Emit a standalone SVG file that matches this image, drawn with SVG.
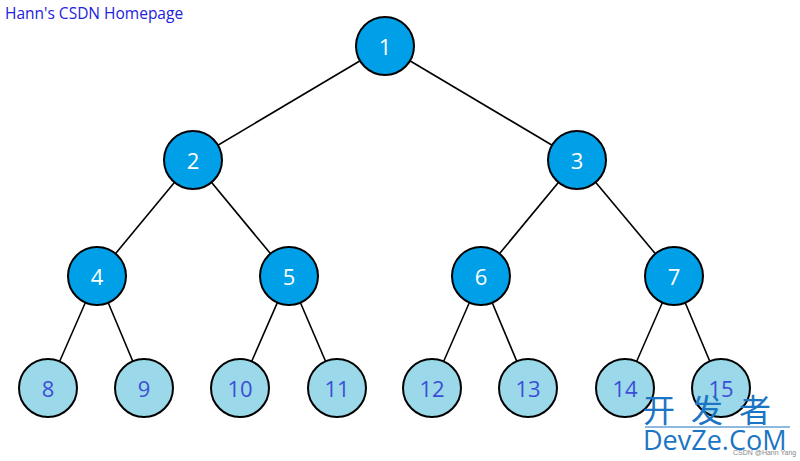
<svg xmlns="http://www.w3.org/2000/svg" width="800" height="461" viewBox="0 0 800 461">
<style>
.e{stroke:#000;stroke-width:1.6}
.n circle{fill:#00a0e9;stroke:#000;stroke-width:2}
.n text{fill:#fff;font-family:"Open Sans","Noto Sans",sans-serif;font-size:22px;text-anchor:middle;dominant-baseline:central}
.l circle{fill:#9bd8ea;stroke:#000;stroke-width:2}
.l text{fill:#3b4fd6;font-family:"Open Sans","Noto Sans",sans-serif;font-size:22px;text-anchor:middle;dominant-baseline:central}
</style>
<rect width="800" height="461" fill="#fff"/>
<text x="5" y="19" font-family="Open Sans,Noto Sans,sans-serif" font-size="15.5" fill="#2222dd">Hann's CSDN Homepage</text>
<g id="edges">
<line class="e" x1="385" y1="46" x2="193" y2="160"/>
<line class="e" x1="385" y1="46" x2="577" y2="160"/>
<line class="e" x1="193" y1="160" x2="97" y2="276"/>
<line class="e" x1="193" y1="160" x2="289" y2="276"/>
<line class="e" x1="577" y1="160" x2="481" y2="276"/>
<line class="e" x1="577" y1="160" x2="674" y2="276"/>
<line class="e" x1="97" y1="276" x2="48" y2="388"/>
<line class="e" x1="97" y1="276" x2="144" y2="388"/>
<line class="e" x1="289" y1="276" x2="240" y2="388"/>
<line class="e" x1="289" y1="276" x2="337" y2="388"/>
<line class="e" x1="481" y1="276" x2="432" y2="388"/>
<line class="e" x1="481" y1="276" x2="528" y2="388"/>
<line class="e" x1="674" y1="276" x2="625" y2="388"/>
<line class="e" x1="674" y1="276" x2="721" y2="388"/>
</g>
<g id="n1" class="n"><circle cx="385" cy="46" r="29"/><text x="385" y="46">1</text></g>
<g id="n2" class="n"><circle cx="193" cy="160" r="29"/><text x="193" y="160">2</text></g>
<g id="n3" class="n"><circle cx="577" cy="160" r="29"/><text x="577" y="160">3</text></g>
<g id="n4" class="n"><circle cx="97" cy="276" r="29"/><text x="97" y="276">4</text></g>
<g id="n5" class="n"><circle cx="289" cy="276" r="29"/><text x="289" y="276">5</text></g>
<g id="n6" class="n"><circle cx="481" cy="276" r="29"/><text x="481" y="276">6</text></g>
<g id="n7" class="n"><circle cx="674" cy="276" r="29"/><text x="674" y="276">7</text></g>
<g id="n8" class="l"><circle cx="48" cy="388" r="29"/><text x="48" y="388">8</text></g>
<g id="n9" class="l"><circle cx="144" cy="388" r="29"/><text x="144" y="388">9</text></g>
<g id="n10" class="l"><circle cx="240" cy="388" r="29"/><text x="240" y="388">10</text></g>
<g id="n11" class="l"><circle cx="337" cy="388" r="29"/><text x="337" y="388">11</text></g>
<g id="n12" class="l"><circle cx="432" cy="388" r="29"/><text x="432" y="388">12</text></g>
<g id="n13" class="l"><circle cx="528" cy="388" r="29"/><text x="528" y="388">13</text></g>
<g id="n14" class="l"><circle cx="625" cy="388" r="29"/><text x="625" y="388">14</text></g>
<g id="n15" class="l"><circle cx="721" cy="388" r="29"/><text x="721" y="388">15</text></g>
<g id="watermark">
<text x="643" y="422" font-family="Noto Sans CJK SC,sans-serif" font-size="32" fill="#1c75c4" letter-spacing="16">开发者</text>
<line x1="645" y1="427" x2="790" y2="427" stroke="#1c75c4" stroke-width="1"/>
<text x="643" y="450" font-family="Open Sans,Noto Sans,sans-serif" font-size="27" fill="#1c75c4">DevZe.CoM</text>
<text x="733" y="455" font-family="Liberation Sans,sans-serif" font-size="7" fill="#888">CSDN @Hann Yang</text>
</g>
</svg>
